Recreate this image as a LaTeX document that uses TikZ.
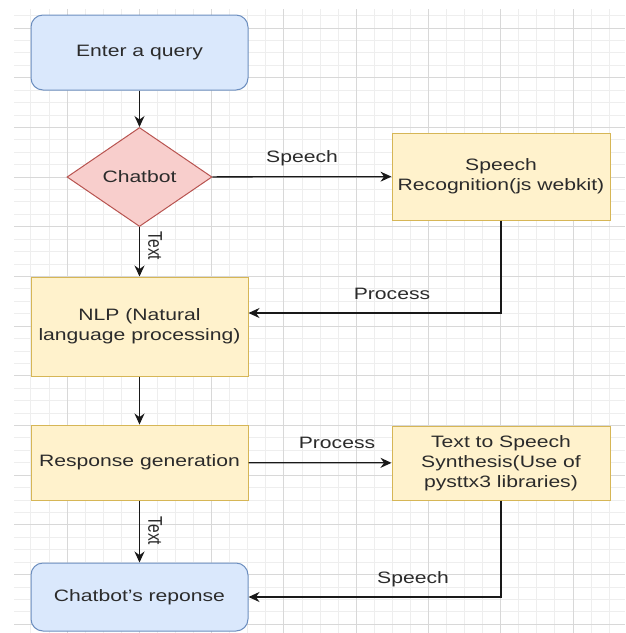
\documentclass[tikz,border=0pt]{standalone}
\usepackage{fontspec}
\setmainfont{Liberation Sans}[FakeStretch=1.28]
\newfontfamily\plainsans{Liberation Sans}
\usetikzlibrary{shapes.geometric,arrows.meta}
\definecolor{bluefill}{HTML}{DAE8FC}
\definecolor{blueline}{HTML}{6C8EBF}
\definecolor{redfill}{HTML}{F8CECC}
\definecolor{redline}{HTML}{B85450}
\definecolor{yelfill}{HTML}{FFF2CC}
\definecolor{yelline}{HTML}{D6B656}
\definecolor{txt}{HTML}{2B2B2B}
\definecolor{gridmajor}{HTML}{D8D8D8}
\definecolor{gridminor}{HTML}{EEEEEE}
\tikzset{
  base/.style={draw, line width=1pt, text=txt, inner sep=2pt, align=center,
    font=\fontsize{16.5}{20}\selectfont},
  roundbox/.style={base, rectangle, rounded corners=12pt, fill=bluefill, draw=blueline},
  yelbox/.style={base, rectangle, fill=yelfill, draw=yelline},
  decision/.style={base, diamond, fill=redfill, draw=redline, aspect=1.465, inner sep=0pt},
  arr/.style={draw=black!90, line width=1.3pt, -{Stealth[length=11pt,width=10pt]}},
  lbl/.style={text=txt, font=\fontsize{16.5}{20}\selectfont, inner sep=0pt},
  vlbl/.style={text=txt, font=\plainsans\fontsize{15.5}{18}\selectfont, inner sep=0pt, rotate=-90}
}
\begin{document}
\begin{tikzpicture}[x=1pt,y=-1pt]
\useasboundingbox (0,0) rectangle (625,633);
\fill[white] (0,0) rectangle (625,633);
% grid
\begin{scope}
\clip (14,9) rectangle (625,633);
\foreach \i in {-3,...,31} {
  \draw[gridminor, line width=0.8pt] ({67+18.07*\i},9) -- ({67+18.07*\i},633);
}
\foreach \i in {-2,...,49} {
  \draw[gridminor, line width=0.8pt] (14,{28+12.42*\i}) -- (625,{28+12.42*\i});
}
\foreach \i in {0,...,7} {
  \draw[gridmajor, line width=1pt] ({67+72.29*\i},9) -- ({67+72.29*\i},633);
}
\foreach \i in {0,...,12} {
  \draw[gridmajor, line width=1pt] (14,{28+49.67*\i}) -- (625,{28+49.67*\i});
}
\end{scope}
% nodes
\node[roundbox, minimum width=217pt, minimum height=75pt] (enter) at (139.5,52.5) {Enter a query};
\node[decision, minimum width=145pt, minimum height=99pt] (chat) at (139.5,177) {Chatbot};
\node[yelbox, minimum width=217pt, minimum height=99pt] (nlp) at (139.5,326.5) {NLP (Natural\\language processing)};
\node[yelbox, minimum width=217pt, minimum height=75pt] (resp) at (139.5,462.5) {Response generation};
\node[roundbox, minimum width=217pt, minimum height=68pt] (final) at (139.5,597) {Chatbot's reponse};
\node[yelbox, minimum width=218pt, minimum height=87pt] (sr) at (501,176.5) {Speech\\Recognition(js webkit)};
\node[yelbox, minimum width=218pt, minimum height=74pt] (tts) at (501,463) {Text to Speech\\Synthesis(Use of\\pysttx3 libraries)};
\coordinate (nlpin) at (248.5,313);
% connectors
\draw[arr] (enter) -- (chat);
\draw[arr] (chat) -- (nlp);
\draw[arr] (chat) -- (sr);
\draw[arr] (sr.south) |- (nlpin);
\draw[arr] (nlp) -- (resp);
\draw[arr] (resp) -- (tts);
\draw[arr] (resp) -- (final);
\draw[arr] (tts.south) |- (final.east);
% labels
\node[vlbl] (t1) at (155,246) {\scalebox{1}[1.28]{Text}};
\node[vlbl] (t2) at (155,531) {\scalebox{1}[1.28]{Text}};
\node[lbl] (l1) at (302,158) {Speech};
\node[lbl] (l2) at (392,294) {Process};
\node[lbl] (l3) at (337,443) {Process};
\node[lbl] (l4) at (413,579) {Speech};
\end{tikzpicture}
\end{document}
